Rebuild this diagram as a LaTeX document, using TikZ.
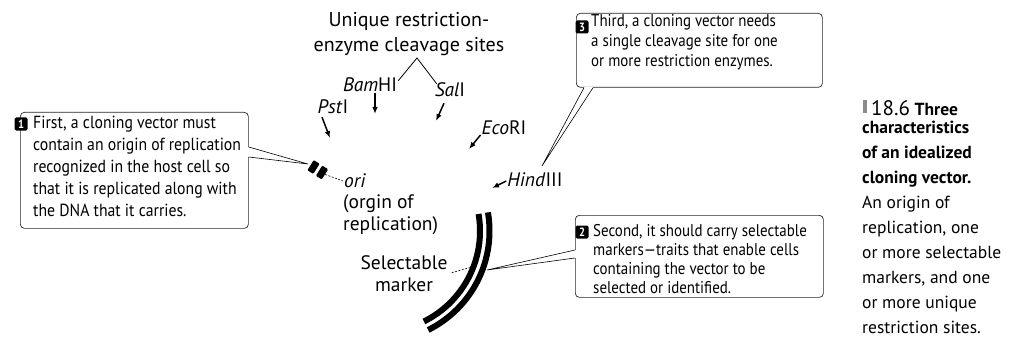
\documentclass[tikz,border=0pt]{standalone}
\usepackage{fontspec}
\setmainfont{PT Sans}
\newfontfamily\narrowfont[FakeStretch=0.88]{PT Sans}
\newfontfamily\wideboxfont[FakeStretch=0.9]{PT Sans}
\newfontfamily\labelfont[FakeStretch=1.0]{PT Sans}
\usetikzlibrary{arrows.meta,calc}
\tikzset{
  note/.style={draw=black!85, line width=0.7pt, rounded corners=4pt, inner sep=0pt, anchor=north west},
  notetext/.style={anchor=north west, inner sep=0pt, align=left, font=\narrowfont\fontsize{17}{19.5}\selectfont},
  badge/.style={fill=black, text=white, rounded corners=1.5pt, inner sep=0pt, minimum size=13pt, font=\narrowfont\bfseries\fontsize{12}{12}\selectfont},
  sitelab/.style={inner sep=1pt, font=\labelfont\fontsize{19.5}{25}\selectfont},
  cut/.style={-{Latex[length=7pt,width=5.5pt]}, line width=1.5pt},
  lead/.style={line width=0.6pt},
  dlead/.style={line width=0.6pt, dash pattern=on 2pt off 1.5pt},
  band/.style={line width=6pt},
  gap/.style={white, line width=2pt},
  oriblock/.style={fill=black, inner sep=0pt, minimum width=7pt, minimum height=12pt, rounded corners=1pt, rotate=-32},
}
\begin{document}
\begin{tikzpicture}[x=1pt,y=-1pt]
\useasboundingbox (0,0) rectangle (1019,342);

% --- callout boxes ---
\node[note, minimum width=228pt, minimum height=116pt] (b1) at (20,112) {};
\node[badge] (n1) at (21,124) {1};
\node[notetext, font=\wideboxfont\fontsize{17.5}{22}\selectfont] (t1) at (33,116) {First, a cloning vector must\\contain an origin of replication\\recognized in the host cell so\\that it is replicated along with\\the DNA that it carries.};

\node[note, minimum width=246pt, minimum height=74pt] (b3) at (576,13) {};
\node[badge] (n3) at (582,27) {3};
\node[notetext, font=\narrowfont\fontsize{17}{20}\selectfont] (t3) at (591,14.7) {Third, a cloning vector needs\\a single cleavage site for one\\or more restriction enzymes.};

\node[note, minimum width=248pt, minimum height=82pt] (b2) at (575,215) {};
\node[badge] (n2) at (582,232) {2};
\node[notetext, font=\narrowfont\fontsize{17}{19}\selectfont] (t2) at (593,223.7) {Second, it should carry selectable\\markers—traits that enable cells\\containing the vector to be\\selected or identified.};

% --- heading over the cleavage sites ---
\node[sitelab, align=center, font=\labelfont\fontsize{20}{25}\selectfont] (head) at (409,34.5) {Unique restriction-\\enzyme cleavage sites};

% --- restriction sites ---
\node[sitelab] (bam) at (370,85) {\textit{Bam}HI};
\node[sitelab] (sal) at (450,90) {\textit{Sal}I};
\node[sitelab] (pst) at (333,107) {\textit{Pst}I};
\node[sitelab] (eco) at (504,128) {\textit{Eco}RI};
\node[sitelab] (hind) at (535,180) {\textit{Hind}III};

\coordinate (apex) at (417,58);
\draw[lead, line width=0.8pt] ($(bam.north east)+(0,4)$) -- (apex) -- ($(sal.north west)+(3,2)$);

\coordinate (pBam) at (375,114);
\coordinate (pSal) at (436,121);
\coordinate (pPst) at (330,138);
\coordinate (pEco) at (469,149);
\coordinate (pHind) at (492,188);
\draw[cut] ($(bam.south)+(5,0)$) -- (pBam);
\draw[cut] ($(sal.south)+(-6,5)$) -- (pSal);
\draw[cut] ($(pst.south)+(-11,2)$) -- (pPst);
\draw[cut] ($(eco.west)+(0,7)$) -- (pEco);
\draw[cut] ($(hind.west)+(0,1)$) -- (pHind);

% --- origin of replication ---
\node[oriblock] (om1) at (313.5,167) {};
\node[oriblock] (om2) at (322,172.5) {};
\node[sitelab, anchor=west] (orilab) at (343,181) {\textit{ori}};
\node[sitelab, anchor=north west, align=left, font=\labelfont\fontsize{19.5}{22}\selectfont] (oridesc) at (342,193) {(orgin of\\replication)};
\draw[dlead] (om2.east) -- (orilab.west);

% --- selectable marker band ---
\draw[band] plot[domain=-9.7:63.6, samples=50] ({379+101*cos(\x)},{231+101*sin(\x)});
\draw[band] plot[domain=-9.7:63.6, samples=50] ({379+110.5*cos(\x)},{231+110.5*sin(\x)});
\node[sitelab, align=center, font=\labelfont\fontsize{19.5}{22}\selectfont] (sel) at (404,274) {Selectable\\marker};
\coordinate (cs) at (472,267);
\draw[dlead] ($(sel.north east)+(3,18)$) -- (cs);

% --- callout pointers ---
\coordinate (c1) at (308,164);
\draw[gap] ($(b1.north east)+(0,35)$) -- ($(b1.north east)+(0,45)$);
\draw[lead] ($(b1.north east)+(0,35)$) -- (c1) -- ($(b1.north east)+(0,45)$);

\coordinate (c3) at (542,166);
\draw[gap] ($(b3.south west)+(8,0)$) -- ($(b3.south west)+(17,0)$);
\draw[lead] ($(b3.south west)+(8,0)$) -- (c3) -- ($(b3.south west)+(17,0)$);

\coordinate (c2) at (487,270);
\draw[gap] ($(b2.north west)+(0,35)$) -- ($(b2.north west)+(0,43)$);
\draw[lead] ($(b2.north west)+(0,35)$) -- (c2) -- ($(b2.north west)+(0,43)$);

% --- figure caption ---
\node[fill=black!45, inner sep=0pt, minimum width=4pt, minimum height=13pt] (icon) at (865,107) {};
\node[anchor=west, inner sep=0pt, font=\fontsize{17.5}{25}\selectfont] (cap1) at (871,108) {{\fontsize{21}{25}\selectfont 18.6} \textbf{Three}};
\node[anchor=north west, inner sep=0pt, align=left, font=\fontsize{17.5}{25}\selectfont] (cap2) at (862,120.5) {\textbf{characteristics}\\\textbf{of an idealized}\\\textbf{cloning vector.}\\An origin of\\replication, one\\or more selectable\\markers, and one\\or more unique\\restriction sites.};
\end{tikzpicture}
\end{document}
